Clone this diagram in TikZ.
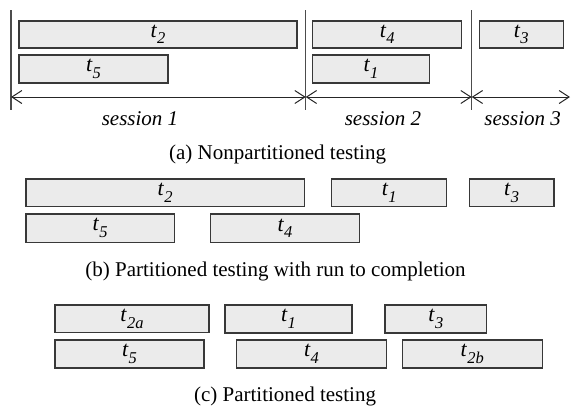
\documentclass[tikz,border=0pt]{standalone}
\usepackage{fontspec}
\setmainfont{Liberation Serif}
\usetikzlibrary{arrows.meta}
\newcommand{\tlab}[1]{\textit{t\kern0.5pt\raisebox{-0.3em}{\fontsize{16.5}{16.5}\selectfont #1}}}
\newcommand{\taskat}[6]{\node[taskbox, minimum width={#4-#2}, minimum height={#5-#3}] (#1) at ({(#2+#4)/2},{(#3+#5)/2}) {\tlab{#6}};}
\begin{document}
\begin{tikzpicture}[x=1pt,y=-1pt,
  font=\fontsize{21}{25}\selectfont,
  taskbox/.style={draw=black!78, line width=1.4pt, fill=black!8, inner sep=0pt,
    font=\fontsize{22}{25}\selectfont},
  sepline/.style={draw=black!70, line width=1.2pt},
  spanarrow/.style={draw=black!85, line width=1pt,
    {Straight Barb[length=10pt,width=13pt]}-{Straight Barb[length=10pt,width=13pt]}},
  captext/.style={inner sep=0pt},
  sesstext/.style={inner sep=0pt, font=\fontsize{21}{25}\selectfont\itshape}]
\useasboundingbox (0,0) rectangle (571,408);
% (a) Nonpartitioned testing
\coordinate (v0t) at (11,10);    \coordinate (v0b) at (11,110);
\coordinate (v1t) at (305.7,10); \coordinate (v1b) at (305.7,110);
\coordinate (v2t) at (471.7,10); \coordinate (v2b) at (471.7,110);
\draw[sepline] (v0t) -- (v0b);
\draw[sepline] (v1t) -- (v1b);
\draw[sepline] (v2t) -- (v2b);
\coordinate (s0) at (11,97);
\coordinate (s1) at (305.7,97);
\coordinate (s2) at (471.7,97);
\coordinate (s3) at (570,97);
\draw[spanarrow] (s0) -- (s1);
\draw[spanarrow] (s1) -- (s2);
\draw[spanarrow] (s2) -- (s3);
\taskat{aT2}{19}{21}{297}{48}{2}
\taskat{aT5}{19}{55}{168}{83}{5}
\taskat{aT4}{312.7}{21}{461.7}{48}{4}
\taskat{aT1}{312.7}{55}{429.3}{83}{1}
\taskat{aT3}{479.3}{21}{563.3}{48}{3}
\node[sesstext] (sess1) at (140,119) {session 1};
\node[sesstext] (sess2) at (383,119) {session 2};
\node[sesstext] (sess3) at (522.7,119) {session 3};
\node[captext] (capa) at (277.5,154) {(a) Nonpartitioned testing};
% (b) Partitioned testing with run to completion
\taskat{bT2}{26}{179}{304.3}{206.7}{2}
\taskat{bT1}{331.7}{179}{446.7}{206.7}{1}
\taskat{bT3}{469.3}{179}{554}{206.7}{3}
\taskat{bT5}{26}{214}{174.3}{242.3}{5}
\taskat{bT4}{210.7}{214}{359.3}{242.3}{4}
\node[captext] (capb) at (275.5,271) {(b) Partitioned testing with run to completion};
% (c) Partitioned testing
\taskat{cT2a}{55}{305}{209}{332.7}{2a}
\taskat{cT1}{225}{305}{352}{333}{1}
\taskat{cT3}{385}{305}{486.7}{333}{3}
\taskat{cT5}{55}{340}{204}{368}{5}
\taskat{cT4}{236.7}{340}{386.3}{368}{4}
\taskat{cT2b}{402.3}{340}{542.3}{368}{2b}
\node[captext] (capc) at (285,396.5) {(c) Partitioned testing};
\end{tikzpicture}
\end{document}
